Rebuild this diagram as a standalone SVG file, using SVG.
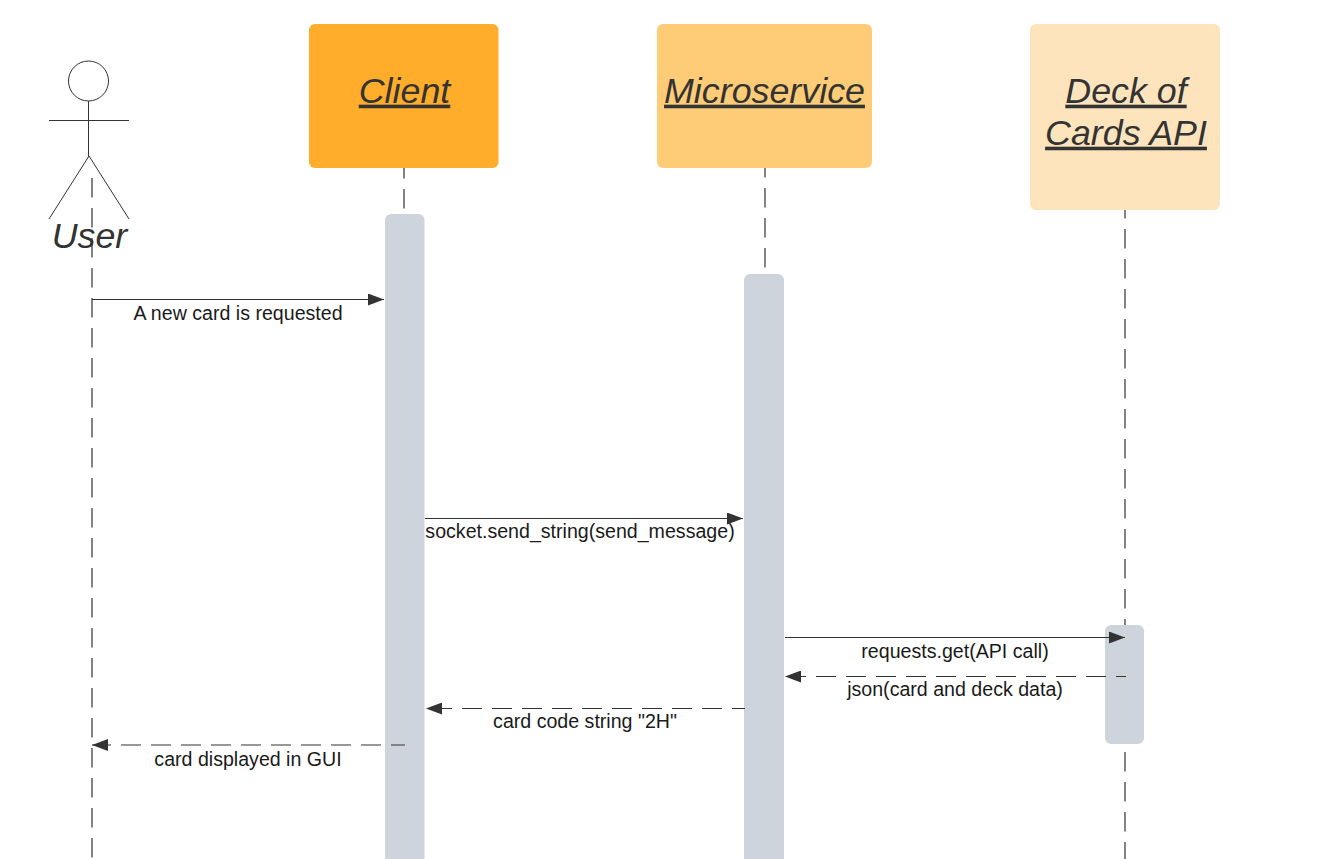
<svg xmlns="http://www.w3.org/2000/svg" width="1320" height="859" viewBox="0 0 1320 859">
<style>
.title{font-family:"Liberation Sans",Arial,sans-serif;font-style:italic;font-size:35.8px;fill:#333;text-anchor:middle}
.u{text-decoration:underline}
.msg{font-family:"Liberation Sans",Arial,sans-serif;font-size:19.6px;fill:#1a1a1a;text-anchor:middle}
.life{stroke:#333;stroke-width:1.2;fill:none;stroke-dasharray:19.5 10.5}
.solid{stroke:#333;stroke-width:1.2;fill:none;marker-end:url(#arrow)}
.ret{stroke:#333;stroke-width:1.2;fill:none;stroke-dasharray:20 10;marker-end:url(#arrow)}
.act{fill:#ced4dc}
.stick{stroke:#333;stroke-width:1;fill:none}
</style>
<defs>
<marker id="arrow" markerUnits="userSpaceOnUse" markerWidth="16" markerHeight="12" refX="16" refY="6" orient="auto"><path d="M0 0L16 6L0 12Z" fill="#333"/></marker>
</defs>
<rect width="1320" height="859" fill="#fff"/>
<g id="lifelines">
<path class="life" d="M92 178V859"/>
<path class="life" d="M404 159V209"/>
<path class="life" d="M765 158V268"/>
<path class="life" d="M1125 199V625"/>
<path class="life" d="M1125 752V859"/>
</g>
<g id="user">
<circle class="stick" cx="88.5" cy="81" r="20"/>
<path class="stick" d="M88.5 101V156M49 120.500H129M49 219L89 156L129 219"/>
<text class="title" x="89.500" y="247.500">User</text>
</g>
<g id="client">
<rect x="309" y="24" width="189.500" height="144" rx="6" fill="#ffad2a"/>
<rect class="act" x="385" y="214" width="39.500" height="660" rx="6"/>
<text class="title u" x="404.500" y="102.700">Client</text>
</g>
<g id="microservice">
<rect x="657" y="24" width="215" height="144" rx="6" fill="#fecb76"/>
<rect class="act" x="744" y="274" width="40" height="600" rx="6"/>
<text class="title u" x="764.500" y="102.700">Microservice</text>
</g>
<g id="deck">
<rect x="1030" y="24" width="190" height="186" rx="6" fill="#fee4bc"/>
<rect class="act" x="1105" y="625" width="39" height="119" rx="6"/>
<text class="title u" x="1126" y="102.700">Deck of</text>
<text class="title u" x="1126" y="144.700">Cards API</text>
</g>
<g id="connectors">
<path class="solid" d="M92 299.500H384"/>
<path class="solid" d="M425 518.500H743"/>
<path class="solid" d="M785 637.500H1125"/>
<path class="ret" d="M1126 676.500H785" stroke-dashoffset="10"/>
<path class="ret" d="M745 708.500H426" stroke-dashoffset="7"/>
<path class="ret" d="M405 745H92" stroke-dashoffset="6"/>
</g>
<g id="labels">
<text class="msg" x="238" y="319.700">A new card is requested</text>
<text class="msg" x="580" y="537.700">socket.send_string(send_message)</text>
<text class="msg" x="955" y="657.700">requests.get(API call)</text>
<text class="msg" x="955" y="695.700">json(card and deck data)</text>
<text class="msg" x="585" y="727.700">card code string "2H"</text>
<text class="msg" x="248" y="765.700">card displayed in GUI</text>
</g>
</svg>
